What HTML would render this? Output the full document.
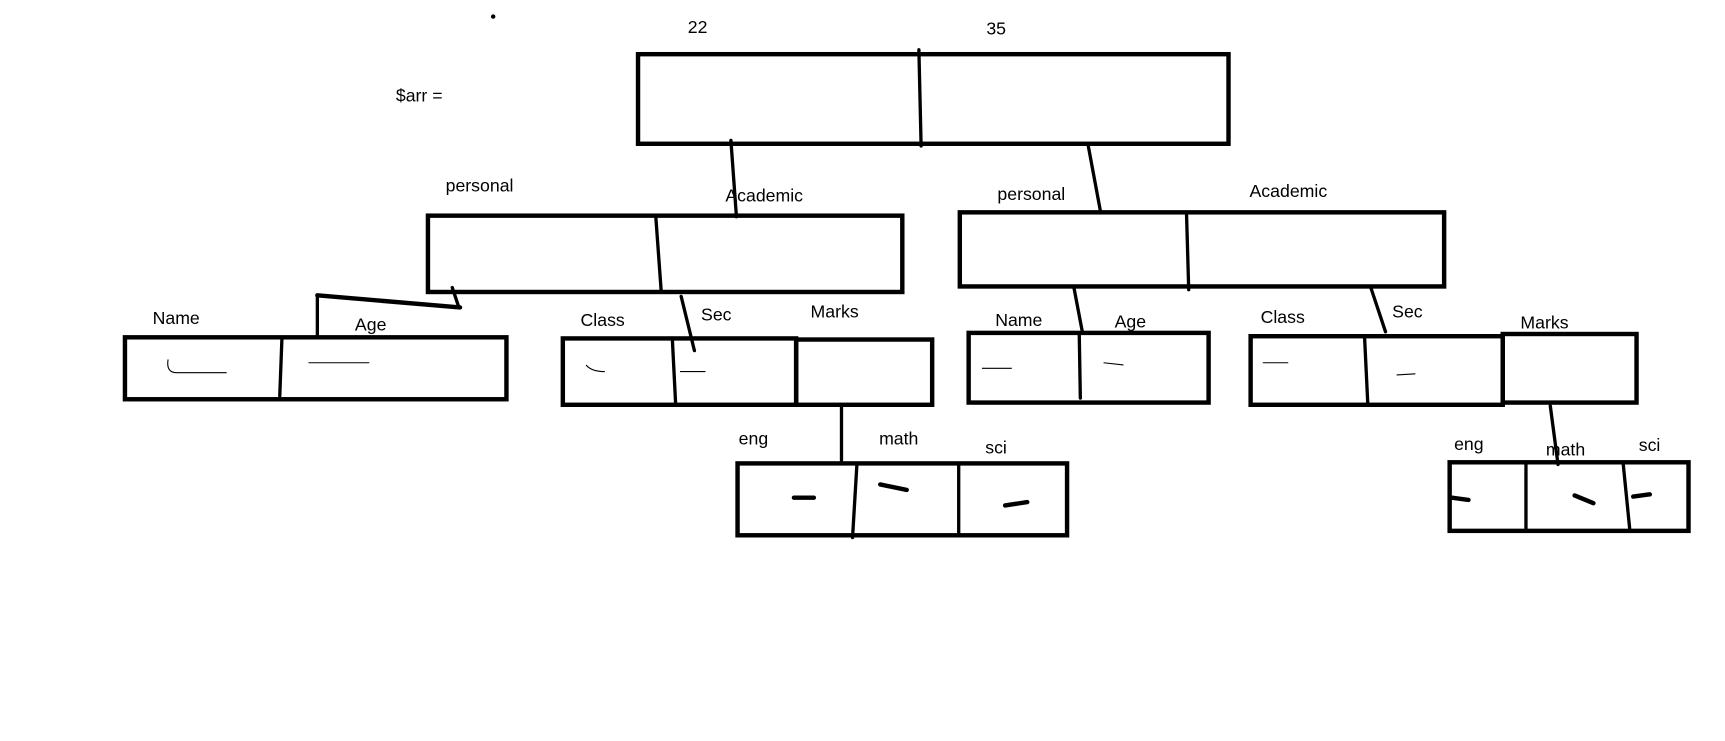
<!DOCTYPE html>
<html><head><style>html,body{margin:0;padding:0;background:#fff;overflow:hidden}svg{display:block}</style></head>
<body>
<svg width="1725" height="741" viewBox="0 0 1560 670" preserveAspectRatio="none" xmlns="http://www.w3.org/2000/svg">
<g font-family="Liberation Sans, sans-serif" font-size="16" fill="#000">
<text x="622" y="30">22</text><text x="892" y="31">35</text>
<text x="358" y="92">$arr =</text>
<text x="403" y="173">personal</text><text x="656" y="182">Academic</text>
<text x="902" y="181">personal</text><text x="1130" y="178">Academic</text>
<text x="138" y="293">Name</text><text x="321" y="299">Age</text>
<text x="525" y="295">Class</text><text x="634" y="290">Sec</text><text x="733" y="287">Marks</text>
<text x="668" y="402">eng</text><text x="795" y="402">math</text><text x="891" y="410">sci</text>
<text x="900" y="295">Name</text><text x="1008" y="296">Age</text>
<text x="1140" y="292">Class</text><text x="1259" y="287">Sec</text><text x="1375" y="297">Marks</text>
<text x="1315" y="407">eng</text><text x="1398" y="412">math</text><text x="1482" y="408">sci</text>
</g>
<circle cx="446" cy="15" r="2" fill="#000"/>
<g fill="none" stroke="#000" stroke-width="4">
<rect x="577" y="49" width="534" height="81"/>
<rect x="387" y="195" width="429" height="69"/>
<rect x="868" y="192" width="438" height="67"/>
<rect x="113" y="305" width="345" height="56"/>
<rect x="509" y="306" width="211" height="60"/>
<rect x="720" y="307" width="123" height="59"/>
<rect x="667" y="419" width="298" height="65"/>
<rect x="876" y="301" width="217" height="63"/>
<rect x="1131" y="304" width="228" height="62"/>
<rect x="1359" y="302" width="121" height="62"/>
<rect x="1311" y="418" width="216" height="62"/>
</g>
<g stroke="#000" stroke-width="3" fill="none" stroke-linecap="round">
<line x1="831" y1="45" x2="833" y2="132"/>
<line x1="661" y1="127" x2="666" y2="196"/>
<line x1="984" y1="131" x2="995" y2="190"/>
<line x1="593" y1="195" x2="598" y2="264"/>
<line x1="1073" y1="192" x2="1075" y2="262"/>
<line x1="409" y1="260" x2="415" y2="278"/>
<line x1="287" y1="267" x2="416" y2="278" stroke-width="4"/>
<line x1="287" y1="267" x2="287" y2="305"/>
<line x1="255" y1="305" x2="253" y2="358"/>
<line x1="616" y1="268" x2="628" y2="317"/>
<line x1="608" y1="306" x2="611" y2="365"/>
<line x1="761" y1="368" x2="761" y2="416"/>
<line x1="775" y1="419" x2="771" y2="486"/>
<line x1="867" y1="419" x2="867" y2="484"/>
<line x1="971" y1="259" x2="979" y2="301"/>
<line x1="976" y1="301" x2="977" y2="360"/>
<line x1="1240" y1="261" x2="1253" y2="300"/>
<line x1="1234" y1="304" x2="1237" y2="366"/>
<line x1="1402" y1="367" x2="1409" y2="420"/>
<line x1="1380" y1="418" x2="1380" y2="480"/>
<line x1="1468" y1="420" x2="1474" y2="480"/>
<line x1="718" y1="450" x2="736" y2="450" stroke-width="4"/>
<line x1="796" y1="438" x2="820" y2="443" stroke-width="4"/>
<line x1="909" y1="457" x2="929" y2="454" stroke-width="4"/>
<line x1="1313" y1="450" x2="1328" y2="452" stroke-width="4"/>
<line x1="1424" y1="448" x2="1441" y2="455" stroke-width="4"/>
<line x1="1477" y1="449" x2="1492" y2="447" stroke-width="4"/>
</g>
<g stroke="#000" stroke-width="1" fill="none">
<path d="M152 325 Q150 337 160 337 L205 337"/>
<line x1="279" y1="328" x2="334" y2="328"/>
<path d="M530 330 Q535 336 547 336"/>
<line x1="615" y1="336" x2="638" y2="336"/>
<line x1="888" y1="333" x2="915" y2="333"/>
<line x1="998" y1="328" x2="1016" y2="330"/>
<line x1="1142" y1="328" x2="1165" y2="328"/>
<line x1="1263" y1="339" x2="1280" y2="338"/>
</g>
</svg>
</body></html>
